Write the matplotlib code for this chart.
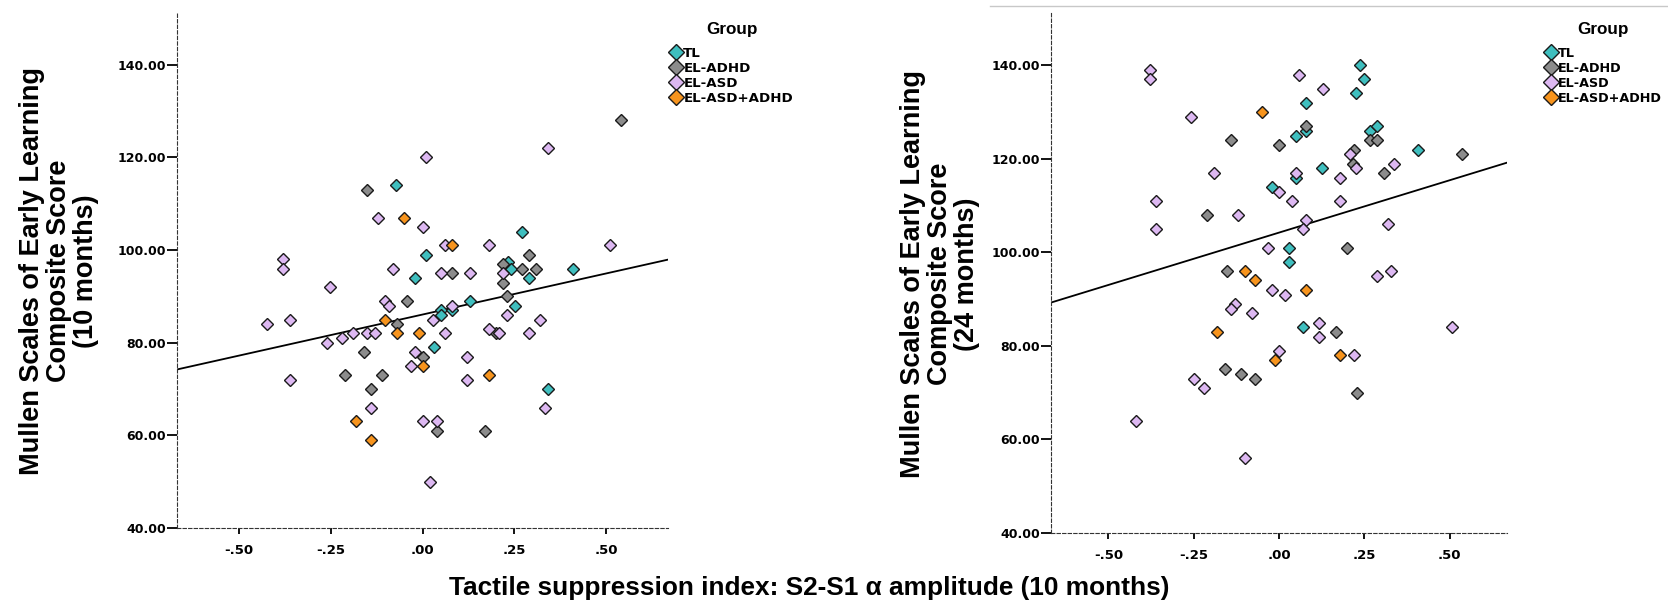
import numpy as np
import matplotlib
matplotlib.use("Agg")
import matplotlib.pyplot as plt
from matplotlib.lines import Line2D
from matplotlib.ticker import FuncFormatter, FixedLocator

# ---- data -------------------------------------------------------------
groups = ["TL", "EL-ADHD", "EL-ASD", "EL-ASD+ADHD"]
group_colors = ["#3FBFBF", "#8C8C8C", "#DDB8F2", "#F7941D"]

# 10-month Mullen composite vs tactile suppression index
m10_tl_x = [-0.071, 0.270, 0.010, -0.020, 0.234, 0.241, 0.410, 0.290, 0.130, 0.252,
            0.051, 0.051, 0.079, 0.030, 0.341]
m10_tl_y = [114, 104, 99, 94, 97.5, 96, 96, 94, 89, 88, 87, 86, 87, 79, 70]

m10_adhd_x = [0.540, -0.150, 0.290, 0.220, 0.270, 0.310, 0.081, 0.220, -0.041, 0.230,
              -0.070, 0.200, -0.160, 0.000, -0.210, -0.111, -0.140, 0.040, 0.171]
m10_adhd_y = [128, 113, 99, 97, 96, 96, 95, 93, 89, 90, 84, 82, 78, 77, 73, 73, 70, 61, 61]

m10_asd_x = [0.341, 0.010, -0.120, 0.000, 0.060, 0.180, 0.511, -0.380, -0.380, -0.081,
             0.051, 0.130, 0.220, -0.251, -0.101, -0.090, 0.081, 0.028, 0.230, -0.422,
             -0.360, -0.260, -0.220, -0.189, -0.151, -0.130, 0.060, 0.180, 0.209, 0.290,
             0.321, -0.020, 0.120, -0.030, -0.360, 0.120, -0.140, 0.332, 0.000, 0.040,
             0.020]
m10_asd_y = [122, 120, 107, 105, 101, 101, 101, 98, 96, 96,
             95, 95, 95, 92, 89, 88, 88, 85, 86, 84,
             85, 80, 81, 82, 82, 82, 82, 83, 82, 82,
             85, 78, 77, 75, 72, 72, 66, 66, 63, 63,
             50]

m10_both_x = [-0.051, 0.081, -0.101, -0.070, -0.010, 0.000, 0.180, -0.180, -0.140]
m10_both_y = [107, 101, 85, 82, 82, 75, 73, 63, 59]

# 24-month Mullen composite vs tactile suppression index
m24_tl_x = [0.238, 0.248, 0.227, 0.079, 0.079, 0.268, 0.288, 0.049, 0.408, 0.127,
            0.049, -0.020, 0.029, 0.029, 0.069]
m24_tl_y = [140, 137, 134, 132, 126, 126, 127, 125, 122, 118, 116, 114, 101, 98, 84]

m24_adhd_x = [0.079, -0.140, 0.268, 0.288, 0.000, 0.220, 0.537, 0.217, 0.307, -0.210,
              0.198, -0.151, 0.168, -0.159, -0.110, -0.071, 0.228]
m24_adhd_y = [127, 124, 124, 124, 123, 122, 121, 119, 117, 108, 101, 96, 83, 75, 74, 73, 70]

m24_asd_x = [-0.379, -0.379, 0.059, 0.129, -0.259, 0.207, 0.338, 0.227, -0.190, 0.049,
             0.178, 0.000, -0.360, 0.039, 0.178, -0.120, 0.079, 0.318, -0.360, 0.069,
             -0.031, 0.329, 0.288, -0.020, 0.019, -0.130, -0.141, -0.080, 0.118, 0.508,
             0.118, 0.000, 0.219, -0.250, -0.220, -0.420, -0.101]
m24_asd_y = [139, 137, 138, 135, 129, 121, 119, 118, 117, 117,
             116, 113, 111, 111, 111, 108, 107, 106, 105, 105,
             101, 96, 95, 92, 91, 89, 88, 87, 85, 84,
             82, 79, 78, 73, 71, 64, 56]

m24_both_x = [-0.051, -0.101, -0.071, 0.079, -0.181, 0.178, -0.012]
m24_both_y = [130, 96, 94, 92, 83, 78, 77]

x_ticks = [-0.50, -0.25, 0.00, 0.25, 0.50]
y_ticks = [40, 60, 80, 100, 120, 140]
x_limits = (-0.668, 0.668)
y_limits = (40, 151.2)

panels = [
    dict(xs=[m10_tl_x, m10_adhd_x, m10_asd_x, m10_both_x],
         ys=[m10_tl_y, m10_adhd_y, m10_asd_y, m10_both_y],
         ylabel="Mullen Scales of Early Learning\nComposite Score\n(10 months)"),
    dict(xs=[m24_tl_x, m24_adhd_x, m24_asd_x, m24_both_x],
         ys=[m24_tl_y, m24_adhd_y, m24_asd_y, m24_both_y],
         ylabel="Mullen Scales of Early Learning\nComposite Score\n(24 months)"),
]

# ---- figure -----------------------------------------------------------
W, H = 1668, 608
fig = plt.figure(figsize=(W / 100, H / 100), dpi=100)


def fx(px):
    return px / W


def fy(py):
    return 1 - py / H


axes_boxes = [
    (177, 13, 668, 528),
    (1051, 13, 1507, 533),
]
legend_anchor = [(670, 22), (1545, 22)]
legend_size = [9.6, 9.2]
ylabel_pos = [(59, 271), (940, 274)]


def fmt_y(v, _):
    return f"{v:.2f}"


def fmt_x(v, _):
    s = f"{v:.2f}"
    return s.replace("0.", ".", 1)


for i, panel in enumerate(panels):
    x0, y0, x1, y1 = axes_boxes[i]
    ax = fig.add_axes([fx(x0), fy(y1), fx(x1 - x0), (y1 - y0) / H])
    ax.set_xlim(*x_limits)
    ax.set_ylim(*y_limits)

    for xs, ys, c in zip(panel["xs"], panel["ys"], group_colors):
        ax.plot(xs, ys, linestyle="none", marker="D", markersize=6.4,
                markerfacecolor=c, markeredgecolor="#1a1a1a",
                markeredgewidth=1.0, zorder=3)

    # least-squares fit line over all groups
    all_x = np.concatenate([np.asarray(v, float) for v in panel["xs"]])
    all_y = np.concatenate([np.asarray(v, float) for v in panel["ys"]])
    slope, intercept = np.polyfit(all_x, all_y, 1)
    lx = np.array(x_limits)
    ax.plot(lx, intercept + slope * lx, color="black", lw=1.3, zorder=2)

    for side in ("top", "right"):
        ax.spines[side].set_visible(False)
    for side in ("left", "bottom"):
        ax.spines[side].set_linestyle((0, (3, 2)))
        ax.spines[side].set_linewidth(0.8)
        ax.spines[side].set_color("#333333")

    ax.xaxis.set_major_locator(FixedLocator(x_ticks))
    ax.yaxis.set_major_locator(FixedLocator(y_ticks))
    ax.xaxis.set_major_formatter(FuncFormatter(fmt_x))
    ax.yaxis.set_major_formatter(FuncFormatter(fmt_y))
    ax.tick_params(axis="y", direction="out", length=7, width=1.3, pad=1,
                   color="black")
    ax.tick_params(axis="x", direction="out", length=4.5, width=1.3, pad=7,
                   color="black")
    for lab in ax.get_yticklabels():
        lab.set_fontfamily("DejaVu Sans")
        lab.set_fontweight("bold")
        lab.set_fontsize(9)
    for lab in ax.get_xticklabels():
        lab.set_fontfamily("DejaVu Sans")
        lab.set_fontweight("bold")
        lab.set_fontsize(9.5)

    handles = [Line2D([], [], linestyle="none", marker="D", markersize=8.6,
                      markerfacecolor=c, markeredgecolor="#1a1a1a",
                      markeredgewidth=1.0) for c in group_colors]
    lax, lay = legend_anchor[i]
    leg = ax.legend(handles, groups, title="Group", loc="upper left",
                    bbox_to_anchor=(fx(lax), fy(lay)),
                    bbox_transform=fig.transFigure, frameon=False,
                    handlelength=0.9, handletextpad=0.1, labelspacing=0.16,
                    borderpad=0, borderaxespad=0,
                    prop=dict(family="DejaVu Sans", weight="bold",
                              size=legend_size[i]),
                    title_fontproperties=dict(family="Liberation Sans",
                                              weight="bold", size=12.3))
    leg._legend_box.sep = 7

    lx_, ly_ = ylabel_pos[i]
    fig.text(fx(lx_), fy(ly_), panel["ylabel"], rotation=90, ha="center",
             va="center", multialignment="center", fontsize=19.5,
             fontweight="bold", family="Liberation Sans", linespacing=1.05)

# thin rule across the top of the right-hand panel
fig.add_artist(Line2D([fx(990), 1.0], [fy(6), fy(6)], color="#C8C8C8",
                      lw=1.0, transform=fig.transFigure))

fig.text(fx(809), fy(588), "Tactile suppression index: S2-S1 \u03b1 amplitude (10 months)",
         ha="center", va="center", fontsize=18.9, fontweight="bold",
         family="Liberation Sans")

fig.savefig("out.png", dpi=100, facecolor="white")
